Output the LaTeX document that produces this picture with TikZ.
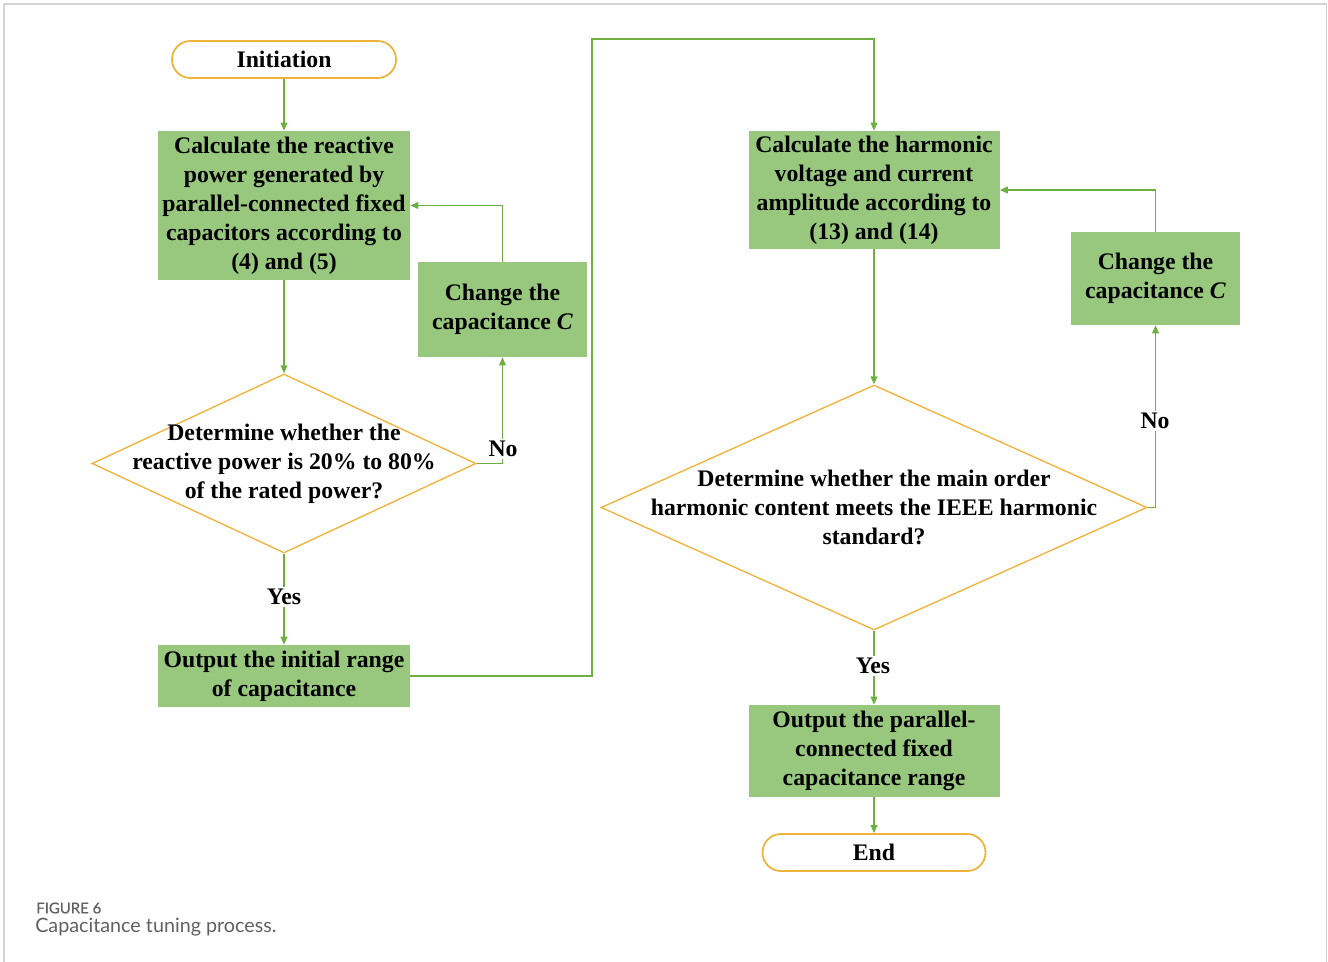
\documentclass[tikz,border=0pt]{standalone}
\usepackage{fontspec}
\setmainfont{Liberation Serif}
\newfontfamily\capfont{Lato}
\newfontfamily\capfontb[FakeBold=0.6]{Lato}
\usetikzlibrary{shapes.geometric,arrows.meta}
\definecolor{boxgreen}{HTML}{98C87E}
\definecolor{linegreen}{HTML}{6DB040}
\definecolor{ringgold}{HTML}{EFB23A}
\definecolor{framegray}{HTML}{D4D4D4}
\definecolor{capgray}{HTML}{606060}
\tikzset{
  txt/.style={font=\bfseries\fontsize{17.8}{21.75}\selectfont, align=center, text=black},
  procbox/.style={txt, fill=boxgreen, draw=none, inner sep=0pt},
  term/.style={txt, draw=ringgold, line width=1.3pt, rounded corners=13.8pt, inner sep=0pt, minimum width=168pt, minimum height=27.75pt},
  decide/.style={diamond, draw=ringgold, line width=1pt, inner sep=0pt},
  flow/.style={draw=linegreen, line width=1.1pt, -{Triangle[length=6pt,width=5pt]}},
  lab/.style={txt, fill=white, inner sep=1.5pt}
}
\begin{document}
\begin{tikzpicture}[x=0.75pt,y=-0.75pt]
\useasboundingbox (0,0) rectangle (1328,962);
\draw[framegray, line width=1pt] (4,980) -- (4,4) -- (1326.5,4) -- (1326.5,980);

% left column
\node[term] (init) at (284,59.5) {Initiation};
\node[procbox, minimum width=189pt, minimum height=111.75pt] (b1) at (284,205.5)
  {Calculate the reactive\\power generated by\\parallel-connected fixed\\capacitors according to\\(4) and (5)};
\node[procbox, minimum width=126.75pt, minimum height=71.25pt] (cl) at (502.5,309.5)
  {Change the\\capacitance \textit{C}};
\node[decide, minimum width=288pt, minimum height=134.25pt] (d1) at (284,463.5) {};
\node[txt] at (d1.center) {Determine whether the\\reactive power is 20\% to 80\%\\of the rated power?};
\node[procbox, minimum width=189pt, minimum height=46.5pt] (o1) at (284,676)
  {Output the initial range\\of capacitance};

% right column
\node[procbox, minimum width=188.25pt, minimum height=88.5pt] (b2) at (874,190)
  {Calculate the harmonic\\voltage and current\\amplitude according to\\(13) and (14)};
\node[procbox, minimum width=126.75pt, minimum height=69.75pt] (cr) at (1155.5,278.5)
  {Change the\\capacitance \textit{C}};
\node[decide, minimum width=409.5pt, minimum height=183.75pt] (d2) at (874,507.5) {};
\node[txt] at (d2.center) {Determine whether the main order\\harmonic content meets the IEEE harmonic\\standard?};
\node[procbox, minimum width=188.25pt, minimum height=69pt] (o2) at (874,751)
  {Output the parallel-\\connected fixed\\capacitance range};
\node[term, minimum width=167.25pt] (end) at (874,852.5) {End};

\coordinate (t1) at (592,39);

% connectors left
\draw[flow] (init.south) -- (b1.north);
\draw[flow] (b1.south) -- (d1.north);
\draw[flow] (d1.east) -| (cl.south);
\draw[flow] (cl.north) |- (b1.east);
\draw[flow] (d1.south) -- (o1.north);
\draw[flow] (o1.east) -| (t1) -| (b2.north);
\node[lab] (no1) at (503,449) {No};
\node[lab] (yes1) at (284,597) {Yes};

% connectors right
\draw[flow] (b2.south) -- (d2.north);
\draw[flow] (d2.east) -| (cr.south);
\draw[flow] (cr.north) |- (b2.east);
\draw[flow] (d2.south) -- (o2.north);
\draw[flow] (o2.south) -- (end.north);
\node[lab] (no2) at (1155,421) {No};
\node[lab] (yes2) at (873,666) {Yes};

% caption
\node[anchor=west, inner sep=0pt, text=capgray, font=\capfontb\fontsize{11.2}{13}\selectfont] (fig) at (36,908) {FIGURE 6};
\node[anchor=west, inner sep=0pt, text=capgray, font=\capfont\fontsize{14.8}{17}\selectfont] (cap) at (35,927) {Capacitance tuning process.};
\end{tikzpicture}
\end{document}
